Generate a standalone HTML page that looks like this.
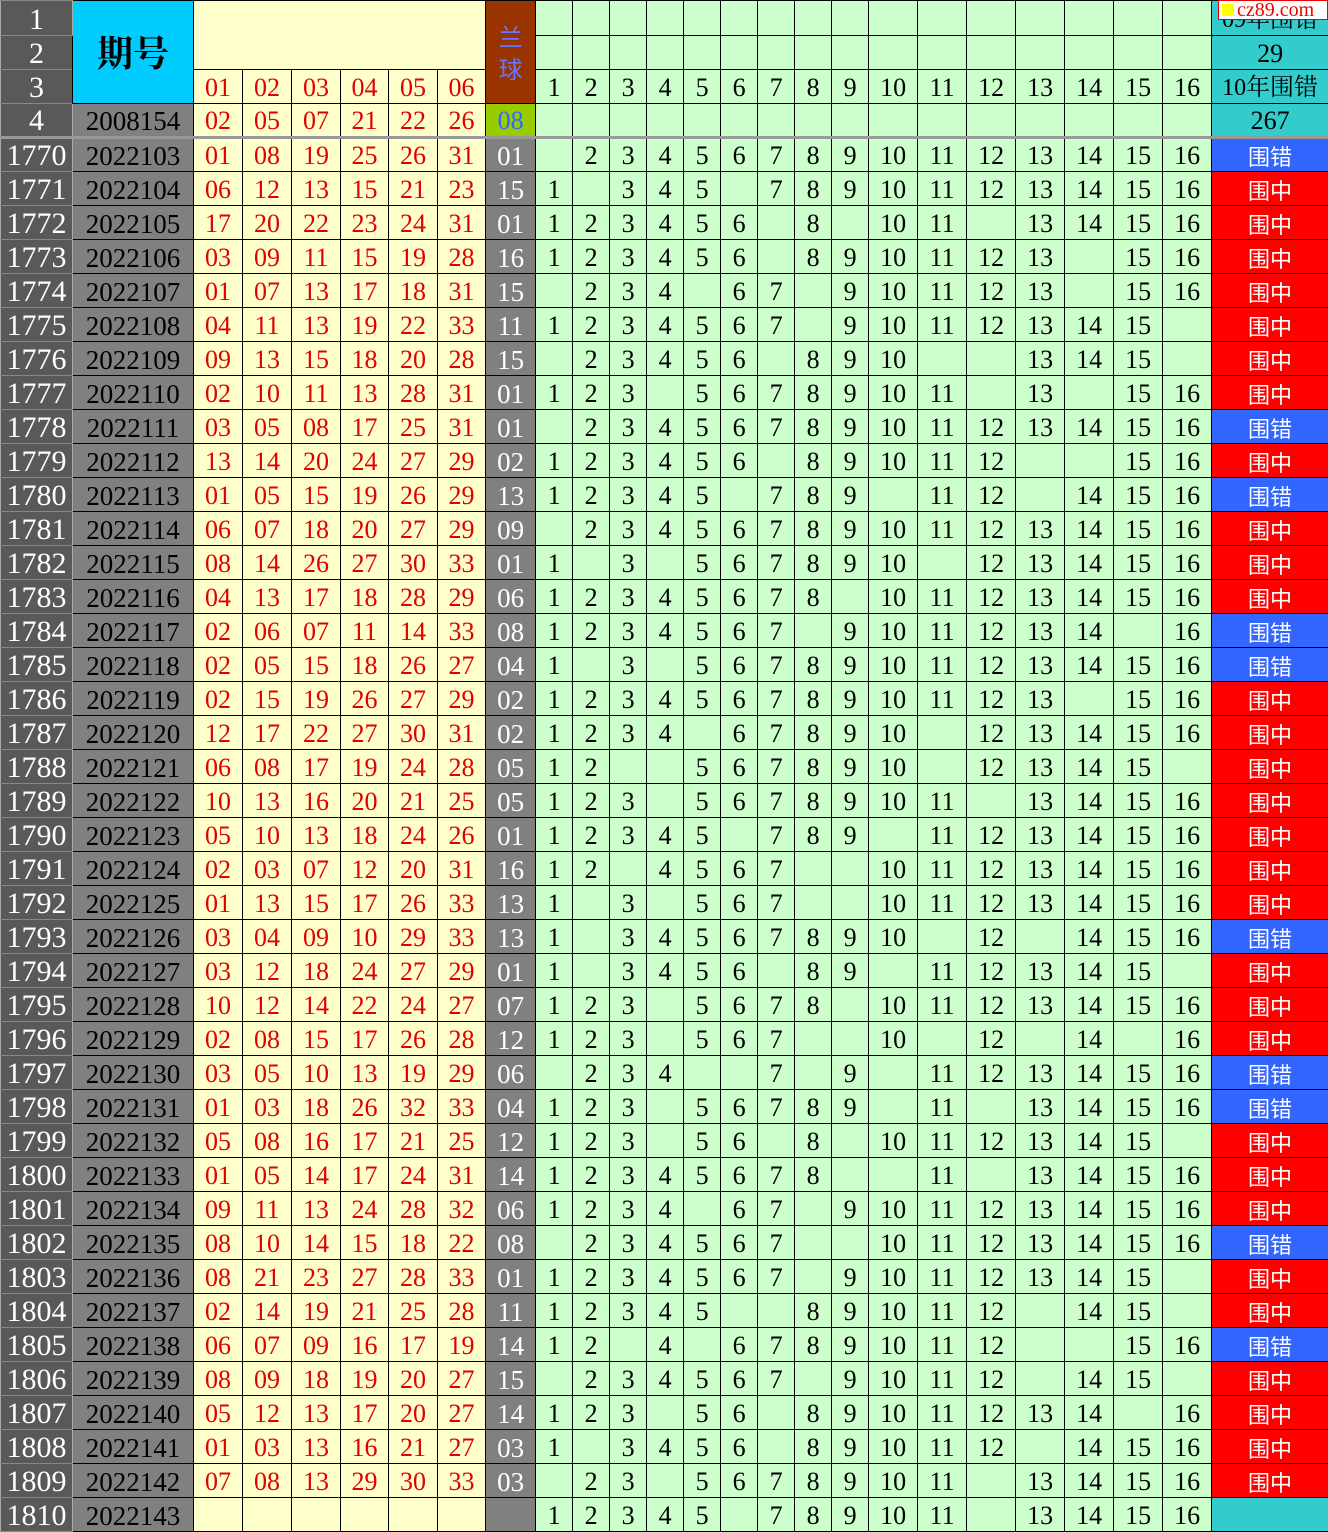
<!DOCTYPE html>
<html><head><meta charset="utf-8"><style>
body{margin:0;background:#fff;width:1328px;height:1530px;overflow:hidden;position:relative}
table{border-collapse:collapse;table-layout:fixed;width:1328px;font-family:"Liberation Serif","Noto Serif CJK SC",serif}
td,th{padding:0;border:1px solid #000;text-align:center;font-weight:normal;font-size:26px;line-height:30px;vertical-align:bottom;overflow:hidden;white-space:nowrap;background:#ccffcc;color:#000}
tr{height:34px}
th{background:#595959;color:#fff;font-size:30px;border-color:#888 #aaa}
td.q{background:#808080;color:#000;font-size:27px}
td.r{background:#ffffcc;color:#e00000}
td.b{background:#808080;color:#fff;font-size:27px}
td.z{background:#ff0000;color:#fff;font-family:"Noto Sans CJK SC",sans-serif;font-size:22px}
td.c{background:#3366ff;color:#fff;font-family:"Noto Sans CJK SC",sans-serif;font-size:22px}
td.t{background:#33cccc}
tr.sep td,tr.sep th{border-top:3px solid #999}
#wm{position:absolute;left:1218px;top:0;width:108px;height:18px;background:#fff;border:1px solid #e00;color:#e00;font:20px/18px "Liberation Serif",serif;overflow:hidden;white-space:nowrap}
#wm i{display:inline-block;width:12px;height:12px;background:#ffff00;margin:3px 3px 0 3px;vertical-align:top}
</style></head><body>
<table>
<colgroup><col style="width:72px"><col style="width:121px"><col style="width:49px"><col style="width:49px"><col style="width:49px"><col style="width:48px"><col style="width:49px"><col style="width:48px"><col style="width:50px"><col style="width:37px"><col style="width:37px"><col style="width:37px"><col style="width:37px"><col style="width:37px"><col style="width:37px"><col style="width:37px"><col style="width:37px"><col style="width:37px"><col style="width:49px"><col style="width:49px"><col style="width:49px"><col style="width:49px"><col style="width:49px"><col style="width:49px"><col style="width:49px"><col style="width:117px"></colgroup>
<tr style="height:35px"><th>1</th><td rowspan="3" style="background:#00ccff;font-family:'Noto Serif CJK SC',serif;font-size:36px;font-weight:bold;vertical-align:middle;line-height:40px">期号</td><td class="r" colspan="6" rowspan="2" style="border-bottom:1px solid #000"></td><td rowspan="3" style="background:#993300;color:#6677ff;font-family:'Noto Sans CJK SC',sans-serif;font-size:24px;line-height:32px;vertical-align:middle">兰<br>球</td><td></td><td></td><td></td><td></td><td></td><td></td><td></td><td></td><td></td><td></td><td></td><td></td><td></td><td></td><td></td><td></td><td class="t" style="font-family:'Liberation Serif','Noto Serif CJK SC',serif;font-size:24px">09年围错</td></tr>
<tr><th>2</th><td></td><td></td><td></td><td></td><td></td><td></td><td></td><td></td><td></td><td></td><td></td><td></td><td></td><td></td><td></td><td></td><td class="t">29</td></tr>
<tr><th>3</th><td class="r">01</td><td class="r">02</td><td class="r">03</td><td class="r">04</td><td class="r">05</td><td class="r">06</td><td>1</td><td>2</td><td>3</td><td>4</td><td>5</td><td>6</td><td>7</td><td>8</td><td>9</td><td>10</td><td>11</td><td>12</td><td>13</td><td>14</td><td>15</td><td>16</td><td class="t" style="font-family:'Liberation Serif','Noto Serif CJK SC',serif;font-size:24px">10年围错</td></tr>
<tr><th>4</th><td class="q">2008154</td><td class="r">02</td><td class="r">05</td><td class="r">07</td><td class="r">21</td><td class="r">22</td><td class="r">26</td><td style="background:#99cc00;color:#3366ff">08</td><td></td><td></td><td></td><td></td><td></td><td></td><td></td><td></td><td></td><td></td><td></td><td></td><td></td><td></td><td></td><td></td><td class="t">267</td></tr>
<tr class="sep"><th>1770</th><td class="q">2022103</td><td class="r">01</td><td class="r">08</td><td class="r">19</td><td class="r">25</td><td class="r">26</td><td class="r">31</td><td class="b">01</td><td></td><td>2</td><td>3</td><td>4</td><td>5</td><td>6</td><td>7</td><td>8</td><td>9</td><td>10</td><td>11</td><td>12</td><td>13</td><td>14</td><td>15</td><td>16</td><td class="c">围错</td></tr>
<tr><th>1771</th><td class="q">2022104</td><td class="r">06</td><td class="r">12</td><td class="r">13</td><td class="r">15</td><td class="r">21</td><td class="r">23</td><td class="b">15</td><td>1</td><td></td><td>3</td><td>4</td><td>5</td><td></td><td>7</td><td>8</td><td>9</td><td>10</td><td>11</td><td>12</td><td>13</td><td>14</td><td>15</td><td>16</td><td class="z">围中</td></tr>
<tr><th>1772</th><td class="q">2022105</td><td class="r">17</td><td class="r">20</td><td class="r">22</td><td class="r">23</td><td class="r">24</td><td class="r">31</td><td class="b">01</td><td>1</td><td>2</td><td>3</td><td>4</td><td>5</td><td>6</td><td></td><td>8</td><td></td><td>10</td><td>11</td><td></td><td>13</td><td>14</td><td>15</td><td>16</td><td class="z">围中</td></tr>
<tr><th>1773</th><td class="q">2022106</td><td class="r">03</td><td class="r">09</td><td class="r">11</td><td class="r">15</td><td class="r">19</td><td class="r">28</td><td class="b">16</td><td>1</td><td>2</td><td>3</td><td>4</td><td>5</td><td>6</td><td></td><td>8</td><td>9</td><td>10</td><td>11</td><td>12</td><td>13</td><td></td><td>15</td><td>16</td><td class="z">围中</td></tr>
<tr><th>1774</th><td class="q">2022107</td><td class="r">01</td><td class="r">07</td><td class="r">13</td><td class="r">17</td><td class="r">18</td><td class="r">31</td><td class="b">15</td><td></td><td>2</td><td>3</td><td>4</td><td></td><td>6</td><td>7</td><td></td><td>9</td><td>10</td><td>11</td><td>12</td><td>13</td><td></td><td>15</td><td>16</td><td class="z">围中</td></tr>
<tr><th>1775</th><td class="q">2022108</td><td class="r">04</td><td class="r">11</td><td class="r">13</td><td class="r">19</td><td class="r">22</td><td class="r">33</td><td class="b">11</td><td>1</td><td>2</td><td>3</td><td>4</td><td>5</td><td>6</td><td>7</td><td></td><td>9</td><td>10</td><td>11</td><td>12</td><td>13</td><td>14</td><td>15</td><td></td><td class="z">围中</td></tr>
<tr><th>1776</th><td class="q">2022109</td><td class="r">09</td><td class="r">13</td><td class="r">15</td><td class="r">18</td><td class="r">20</td><td class="r">28</td><td class="b">15</td><td></td><td>2</td><td>3</td><td>4</td><td>5</td><td>6</td><td></td><td>8</td><td>9</td><td>10</td><td></td><td></td><td>13</td><td>14</td><td>15</td><td></td><td class="z">围中</td></tr>
<tr><th>1777</th><td class="q">2022110</td><td class="r">02</td><td class="r">10</td><td class="r">11</td><td class="r">13</td><td class="r">28</td><td class="r">31</td><td class="b">01</td><td>1</td><td>2</td><td>3</td><td></td><td>5</td><td>6</td><td>7</td><td>8</td><td>9</td><td>10</td><td>11</td><td></td><td>13</td><td></td><td>15</td><td>16</td><td class="z">围中</td></tr>
<tr><th>1778</th><td class="q">2022111</td><td class="r">03</td><td class="r">05</td><td class="r">08</td><td class="r">17</td><td class="r">25</td><td class="r">31</td><td class="b">01</td><td></td><td>2</td><td>3</td><td>4</td><td>5</td><td>6</td><td>7</td><td>8</td><td>9</td><td>10</td><td>11</td><td>12</td><td>13</td><td>14</td><td>15</td><td>16</td><td class="c">围错</td></tr>
<tr><th>1779</th><td class="q">2022112</td><td class="r">13</td><td class="r">14</td><td class="r">20</td><td class="r">24</td><td class="r">27</td><td class="r">29</td><td class="b">02</td><td>1</td><td>2</td><td>3</td><td>4</td><td>5</td><td>6</td><td></td><td>8</td><td>9</td><td>10</td><td>11</td><td>12</td><td></td><td></td><td>15</td><td>16</td><td class="z">围中</td></tr>
<tr><th>1780</th><td class="q">2022113</td><td class="r">01</td><td class="r">05</td><td class="r">15</td><td class="r">19</td><td class="r">26</td><td class="r">29</td><td class="b">13</td><td>1</td><td>2</td><td>3</td><td>4</td><td>5</td><td></td><td>7</td><td>8</td><td>9</td><td></td><td>11</td><td>12</td><td></td><td>14</td><td>15</td><td>16</td><td class="c">围错</td></tr>
<tr><th>1781</th><td class="q">2022114</td><td class="r">06</td><td class="r">07</td><td class="r">18</td><td class="r">20</td><td class="r">27</td><td class="r">29</td><td class="b">09</td><td></td><td>2</td><td>3</td><td>4</td><td>5</td><td>6</td><td>7</td><td>8</td><td>9</td><td>10</td><td>11</td><td>12</td><td>13</td><td>14</td><td>15</td><td>16</td><td class="z">围中</td></tr>
<tr><th>1782</th><td class="q">2022115</td><td class="r">08</td><td class="r">14</td><td class="r">26</td><td class="r">27</td><td class="r">30</td><td class="r">33</td><td class="b">01</td><td>1</td><td></td><td>3</td><td></td><td>5</td><td>6</td><td>7</td><td>8</td><td>9</td><td>10</td><td></td><td>12</td><td>13</td><td>14</td><td>15</td><td>16</td><td class="z">围中</td></tr>
<tr><th>1783</th><td class="q">2022116</td><td class="r">04</td><td class="r">13</td><td class="r">17</td><td class="r">18</td><td class="r">28</td><td class="r">29</td><td class="b">06</td><td>1</td><td>2</td><td>3</td><td>4</td><td>5</td><td>6</td><td>7</td><td>8</td><td></td><td>10</td><td>11</td><td>12</td><td>13</td><td>14</td><td>15</td><td>16</td><td class="z">围中</td></tr>
<tr><th>1784</th><td class="q">2022117</td><td class="r">02</td><td class="r">06</td><td class="r">07</td><td class="r">11</td><td class="r">14</td><td class="r">33</td><td class="b">08</td><td>1</td><td>2</td><td>3</td><td>4</td><td>5</td><td>6</td><td>7</td><td></td><td>9</td><td>10</td><td>11</td><td>12</td><td>13</td><td>14</td><td></td><td>16</td><td class="c">围错</td></tr>
<tr><th>1785</th><td class="q">2022118</td><td class="r">02</td><td class="r">05</td><td class="r">15</td><td class="r">18</td><td class="r">26</td><td class="r">27</td><td class="b">04</td><td>1</td><td></td><td>3</td><td></td><td>5</td><td>6</td><td>7</td><td>8</td><td>9</td><td>10</td><td>11</td><td>12</td><td>13</td><td>14</td><td>15</td><td>16</td><td class="c">围错</td></tr>
<tr><th>1786</th><td class="q">2022119</td><td class="r">02</td><td class="r">15</td><td class="r">19</td><td class="r">26</td><td class="r">27</td><td class="r">29</td><td class="b">02</td><td>1</td><td>2</td><td>3</td><td>4</td><td>5</td><td>6</td><td>7</td><td>8</td><td>9</td><td>10</td><td>11</td><td>12</td><td>13</td><td></td><td>15</td><td>16</td><td class="z">围中</td></tr>
<tr><th>1787</th><td class="q">2022120</td><td class="r">12</td><td class="r">17</td><td class="r">22</td><td class="r">27</td><td class="r">30</td><td class="r">31</td><td class="b">02</td><td>1</td><td>2</td><td>3</td><td>4</td><td></td><td>6</td><td>7</td><td>8</td><td>9</td><td>10</td><td></td><td>12</td><td>13</td><td>14</td><td>15</td><td>16</td><td class="z">围中</td></tr>
<tr><th>1788</th><td class="q">2022121</td><td class="r">06</td><td class="r">08</td><td class="r">17</td><td class="r">19</td><td class="r">24</td><td class="r">28</td><td class="b">05</td><td>1</td><td>2</td><td></td><td></td><td>5</td><td>6</td><td>7</td><td>8</td><td>9</td><td>10</td><td></td><td>12</td><td>13</td><td>14</td><td>15</td><td></td><td class="z">围中</td></tr>
<tr><th>1789</th><td class="q">2022122</td><td class="r">10</td><td class="r">13</td><td class="r">16</td><td class="r">20</td><td class="r">21</td><td class="r">25</td><td class="b">05</td><td>1</td><td>2</td><td>3</td><td></td><td>5</td><td>6</td><td>7</td><td>8</td><td>9</td><td>10</td><td>11</td><td></td><td>13</td><td>14</td><td>15</td><td>16</td><td class="z">围中</td></tr>
<tr><th>1790</th><td class="q">2022123</td><td class="r">05</td><td class="r">10</td><td class="r">13</td><td class="r">18</td><td class="r">24</td><td class="r">26</td><td class="b">01</td><td>1</td><td>2</td><td>3</td><td>4</td><td>5</td><td></td><td>7</td><td>8</td><td>9</td><td></td><td>11</td><td>12</td><td>13</td><td>14</td><td>15</td><td>16</td><td class="z">围中</td></tr>
<tr><th>1791</th><td class="q">2022124</td><td class="r">02</td><td class="r">03</td><td class="r">07</td><td class="r">12</td><td class="r">20</td><td class="r">31</td><td class="b">16</td><td>1</td><td>2</td><td></td><td>4</td><td>5</td><td>6</td><td>7</td><td></td><td></td><td>10</td><td>11</td><td>12</td><td>13</td><td>14</td><td>15</td><td>16</td><td class="z">围中</td></tr>
<tr><th>1792</th><td class="q">2022125</td><td class="r">01</td><td class="r">13</td><td class="r">15</td><td class="r">17</td><td class="r">26</td><td class="r">33</td><td class="b">13</td><td>1</td><td></td><td>3</td><td></td><td>5</td><td>6</td><td>7</td><td></td><td></td><td>10</td><td>11</td><td>12</td><td>13</td><td>14</td><td>15</td><td>16</td><td class="z">围中</td></tr>
<tr><th>1793</th><td class="q">2022126</td><td class="r">03</td><td class="r">04</td><td class="r">09</td><td class="r">10</td><td class="r">29</td><td class="r">33</td><td class="b">13</td><td>1</td><td></td><td>3</td><td>4</td><td>5</td><td>6</td><td>7</td><td>8</td><td>9</td><td>10</td><td></td><td>12</td><td></td><td>14</td><td>15</td><td>16</td><td class="c">围错</td></tr>
<tr><th>1794</th><td class="q">2022127</td><td class="r">03</td><td class="r">12</td><td class="r">18</td><td class="r">24</td><td class="r">27</td><td class="r">29</td><td class="b">01</td><td>1</td><td></td><td>3</td><td>4</td><td>5</td><td>6</td><td></td><td>8</td><td>9</td><td></td><td>11</td><td>12</td><td>13</td><td>14</td><td>15</td><td></td><td class="z">围中</td></tr>
<tr><th>1795</th><td class="q">2022128</td><td class="r">10</td><td class="r">12</td><td class="r">14</td><td class="r">22</td><td class="r">24</td><td class="r">27</td><td class="b">07</td><td>1</td><td>2</td><td>3</td><td></td><td>5</td><td>6</td><td>7</td><td>8</td><td></td><td>10</td><td>11</td><td>12</td><td>13</td><td>14</td><td>15</td><td>16</td><td class="z">围中</td></tr>
<tr><th>1796</th><td class="q">2022129</td><td class="r">02</td><td class="r">08</td><td class="r">15</td><td class="r">17</td><td class="r">26</td><td class="r">28</td><td class="b">12</td><td>1</td><td>2</td><td>3</td><td></td><td>5</td><td>6</td><td>7</td><td></td><td></td><td>10</td><td></td><td>12</td><td></td><td>14</td><td></td><td>16</td><td class="z">围中</td></tr>
<tr><th>1797</th><td class="q">2022130</td><td class="r">03</td><td class="r">05</td><td class="r">10</td><td class="r">13</td><td class="r">19</td><td class="r">29</td><td class="b">06</td><td></td><td>2</td><td>3</td><td>4</td><td></td><td></td><td>7</td><td></td><td>9</td><td></td><td>11</td><td>12</td><td>13</td><td>14</td><td>15</td><td>16</td><td class="c">围错</td></tr>
<tr><th>1798</th><td class="q">2022131</td><td class="r">01</td><td class="r">03</td><td class="r">18</td><td class="r">26</td><td class="r">32</td><td class="r">33</td><td class="b">04</td><td>1</td><td>2</td><td>3</td><td></td><td>5</td><td>6</td><td>7</td><td>8</td><td>9</td><td></td><td>11</td><td></td><td>13</td><td>14</td><td>15</td><td>16</td><td class="c">围错</td></tr>
<tr><th>1799</th><td class="q">2022132</td><td class="r">05</td><td class="r">08</td><td class="r">16</td><td class="r">17</td><td class="r">21</td><td class="r">25</td><td class="b">12</td><td>1</td><td>2</td><td>3</td><td></td><td>5</td><td>6</td><td></td><td>8</td><td></td><td>10</td><td>11</td><td>12</td><td>13</td><td>14</td><td>15</td><td></td><td class="z">围中</td></tr>
<tr><th>1800</th><td class="q">2022133</td><td class="r">01</td><td class="r">05</td><td class="r">14</td><td class="r">17</td><td class="r">24</td><td class="r">31</td><td class="b">14</td><td>1</td><td>2</td><td>3</td><td>4</td><td>5</td><td>6</td><td>7</td><td>8</td><td></td><td></td><td>11</td><td></td><td>13</td><td>14</td><td>15</td><td>16</td><td class="z">围中</td></tr>
<tr><th>1801</th><td class="q">2022134</td><td class="r">09</td><td class="r">11</td><td class="r">13</td><td class="r">24</td><td class="r">28</td><td class="r">32</td><td class="b">06</td><td>1</td><td>2</td><td>3</td><td>4</td><td></td><td>6</td><td>7</td><td></td><td>9</td><td>10</td><td>11</td><td>12</td><td>13</td><td>14</td><td>15</td><td>16</td><td class="z">围中</td></tr>
<tr><th>1802</th><td class="q">2022135</td><td class="r">08</td><td class="r">10</td><td class="r">14</td><td class="r">15</td><td class="r">18</td><td class="r">22</td><td class="b">08</td><td></td><td>2</td><td>3</td><td>4</td><td>5</td><td>6</td><td>7</td><td></td><td></td><td>10</td><td>11</td><td>12</td><td>13</td><td>14</td><td>15</td><td>16</td><td class="c">围错</td></tr>
<tr><th>1803</th><td class="q">2022136</td><td class="r">08</td><td class="r">21</td><td class="r">23</td><td class="r">27</td><td class="r">28</td><td class="r">33</td><td class="b">01</td><td>1</td><td>2</td><td>3</td><td>4</td><td>5</td><td>6</td><td>7</td><td></td><td>9</td><td>10</td><td>11</td><td>12</td><td>13</td><td>14</td><td>15</td><td></td><td class="z">围中</td></tr>
<tr><th>1804</th><td class="q">2022137</td><td class="r">02</td><td class="r">14</td><td class="r">19</td><td class="r">21</td><td class="r">25</td><td class="r">28</td><td class="b">11</td><td>1</td><td>2</td><td>3</td><td>4</td><td>5</td><td></td><td></td><td>8</td><td>9</td><td>10</td><td>11</td><td>12</td><td></td><td>14</td><td>15</td><td></td><td class="z">围中</td></tr>
<tr><th>1805</th><td class="q">2022138</td><td class="r">06</td><td class="r">07</td><td class="r">09</td><td class="r">16</td><td class="r">17</td><td class="r">19</td><td class="b">14</td><td>1</td><td>2</td><td></td><td>4</td><td></td><td>6</td><td>7</td><td>8</td><td>9</td><td>10</td><td>11</td><td>12</td><td></td><td></td><td>15</td><td>16</td><td class="c">围错</td></tr>
<tr><th>1806</th><td class="q">2022139</td><td class="r">08</td><td class="r">09</td><td class="r">18</td><td class="r">19</td><td class="r">20</td><td class="r">27</td><td class="b">15</td><td></td><td>2</td><td>3</td><td>4</td><td>5</td><td>6</td><td>7</td><td></td><td>9</td><td>10</td><td>11</td><td>12</td><td></td><td>14</td><td>15</td><td></td><td class="z">围中</td></tr>
<tr><th>1807</th><td class="q">2022140</td><td class="r">05</td><td class="r">12</td><td class="r">13</td><td class="r">17</td><td class="r">20</td><td class="r">27</td><td class="b">14</td><td>1</td><td>2</td><td>3</td><td></td><td>5</td><td>6</td><td></td><td>8</td><td>9</td><td>10</td><td>11</td><td>12</td><td>13</td><td>14</td><td></td><td>16</td><td class="z">围中</td></tr>
<tr><th>1808</th><td class="q">2022141</td><td class="r">01</td><td class="r">03</td><td class="r">13</td><td class="r">16</td><td class="r">21</td><td class="r">27</td><td class="b">03</td><td>1</td><td></td><td>3</td><td>4</td><td>5</td><td>6</td><td></td><td>8</td><td>9</td><td>10</td><td>11</td><td>12</td><td></td><td>14</td><td>15</td><td>16</td><td class="z">围中</td></tr>
<tr><th>1809</th><td class="q">2022142</td><td class="r">07</td><td class="r">08</td><td class="r">13</td><td class="r">29</td><td class="r">30</td><td class="r">33</td><td class="b">03</td><td></td><td>2</td><td>3</td><td></td><td>5</td><td>6</td><td>7</td><td>8</td><td>9</td><td>10</td><td>11</td><td></td><td>13</td><td>14</td><td>15</td><td>16</td><td class="z">围中</td></tr>
<tr><th>1810</th><td class="q">2022143</td><td class="r"></td><td class="r"></td><td class="r"></td><td class="r"></td><td class="r"></td><td class="r"></td><td class="b"></td><td>1</td><td>2</td><td>3</td><td>4</td><td>5</td><td></td><td>7</td><td>8</td><td>9</td><td>10</td><td>11</td><td></td><td>13</td><td>14</td><td>15</td><td>16</td><td class="t"></td></tr>
</table>
<div id="wm"><i></i>cz89.com</div>
</body></html>
